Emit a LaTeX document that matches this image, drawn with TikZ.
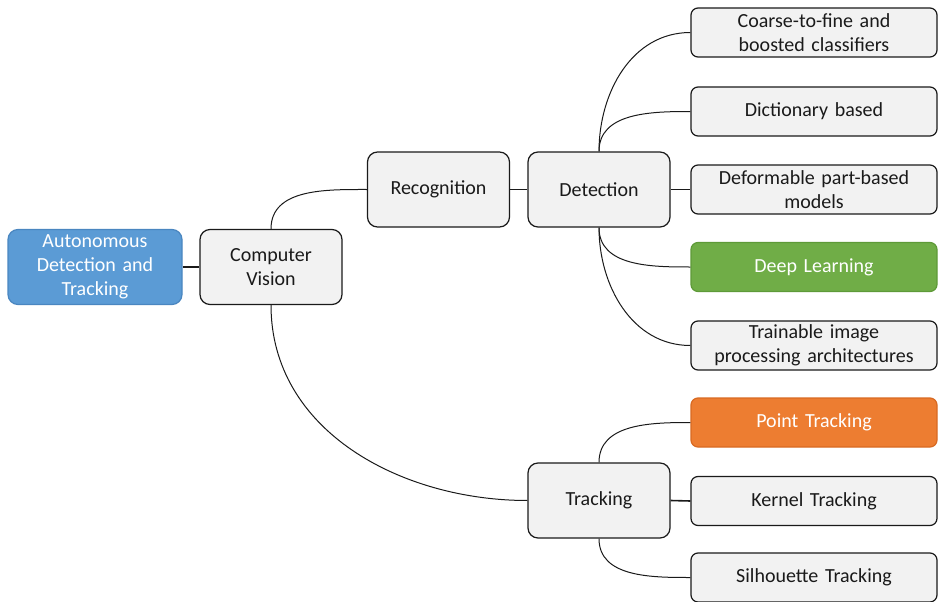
\documentclass[tikz,border=0pt]{standalone}
\usepackage{fontspec}
\setmainfont{Carlito}
\definecolor{boxgray}{HTML}{F2F2F2}
\definecolor{ink}{HTML}{1A1A1A}
\definecolor{mblue}{HTML}{5B9BD5}
\definecolor{mblueedge}{HTML}{4A86C0}
\definecolor{mgreen}{HTML}{70AD47}
\definecolor{mgreenedge}{HTML}{5E9A38}
\definecolor{morange}{HTML}{ED7D31}
\definecolor{morangeedge}{HTML}{D86A22}
\tikzset{
  base/.style={rectangle, rounded corners=10pt, draw=ink, line width=1.2pt,
    fill=boxgray, text=ink, align=center, inner sep=0pt,
    font=\fontsize{20}{24}\selectfont},
  hub/.style={base, minimum width=142pt, minimum height=75pt, text width=138pt},
  leaf/.style={base, rounded corners=7pt, minimum width=246pt, minimum height=49pt, text width=242pt},
  rootbox/.style={base, fill=mblue, draw=mblueedge, text=white,
    minimum width=174pt, minimum height=75pt, text width=170pt},
  greenleaf/.style={leaf, fill=mgreen, draw=mgreenedge, text=white},
  orangeleaf/.style={leaf, fill=morange, draw=morangeedge, text=white},
  link/.style={draw=ink, line width=1pt},
  stub/.style={draw=ink, line width=1.6pt}
}
\begin{document}
\begin{tikzpicture}[x=1pt,y=1pt]
\useasboundingbox (0,0) rectangle (938,-602);

% main chain
\node[rootbox] (auto) at (95,-267) {Autonomous\\Detection and\\Tracking};
\node[hub] (cv)    at (271,-267) {Computer\\Vision};
\node[hub] (rec)   at (438.5,-189.5) {Recognition};
\node[hub] (det)   at (599,-189.5) {Detection};
\node[hub] (track) at (599,-500.5) {Tracking};

% detection methods
\node[leaf] (coarse) at (814,-32.5)  {Coarse-to-fine and\\boosted classifiers};
\node[leaf] (dict)   at (814,-111.5) {Dictionary based};
\node[leaf] (deform) at (814,-189.5) {Deformable part-based\\models};
\node[greenleaf] (deep) at (814,-267) {Deep Learning};
\node[leaf] (train)  at (814,-345.5) {Trainable image\\processing architectures};

% tracking methods
\node[orangeleaf] (point) at (814,-422.5) {Point Tracking};
\node[leaf] (kernel) at (814,-501) {Kernel Tracking};
\node[leaf] (sil)    at (814,-577.5) {Silhouette Tracking};

% straight links
\draw[stub] (auto.east) -- (cv.west);
\draw[stub] (rec.east) -- (det.west);
\draw[stub] (det.east) -- (deform.west);
\draw[stub] (track.east) -- (kernel.west);

% curved links
\draw[link] (cv.north) to[out=90,in=180] (rec.west);
\draw[link] (cv.south) to[out=-90,in=180] (track.west);
\draw[link] (det.north) to[out=90,in=180] (coarse.west);
\draw[link] (det.north) to[out=90,in=180] (dict.west);
\draw[link] (det.south) to[out=-90,in=180] (deep.west);
\draw[link] (det.south) to[out=-90,in=180] (train.west);
\draw[link] (track.north) to[out=90,in=180] (point.west);
\draw[link] (track.south) to[out=-90,in=180] (sil.west);
\end{tikzpicture}
\end{document}
